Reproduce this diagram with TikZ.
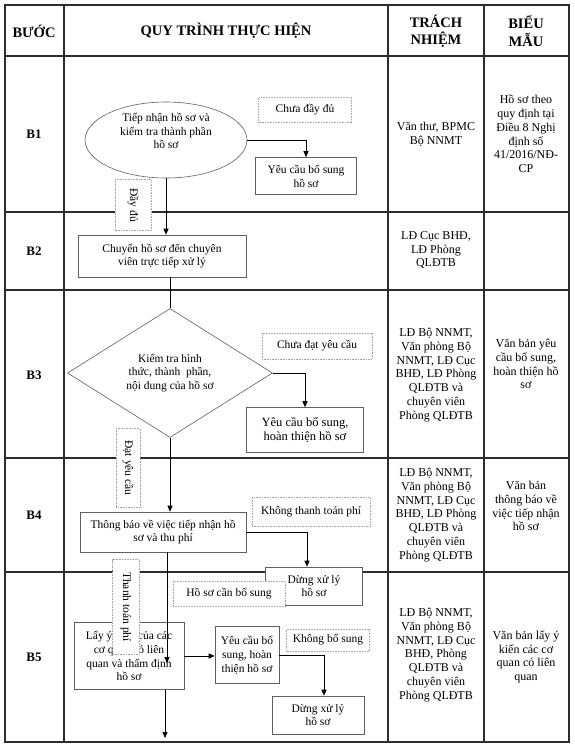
\documentclass[tikz,border=0pt]{standalone}
\usepackage{fontspec}
\setmainfont{Liberation Serif}
\usetikzlibrary{arrows.meta, shapes.geometric}
\definecolor{grid_line}{RGB}{45, 45, 45}
\definecolor{box_line}{RGB}{95, 95, 95}
\definecolor{note_line}{RGB}{165, 165, 165}

\begin{document}
\begin{tikzpicture}[x=1pt, y=-1pt,
        hd/.style={font=\fontsize{14.5}{17.5}\selectfont\bfseries, align=center},
        stp/.style={font=\fontsize{13}{15}\selectfont\bfseries},
        cell/.style={font=\fontsize{12}{13.8}\selectfont, align=center},
        proc/.style={draw=box_line, line width=0.6pt, fill=white, inner sep=1pt,
                     align=center, font=\fontsize{11.5}{13.8}\selectfont},
        note/.style={draw=note_line, densely dotted, line width=0.6pt, fill=white,
                     inner sep=1pt, font=\fontsize{11.5}{13.8}\selectfont},
        arr/.style={-{Triangle[length=6pt, width=5pt]}, line width=0.9pt},
        ln/.style={line width=0.9pt},
        grid/.style={draw=grid_line, line width=1.1pt},
      ]
        \useasboundingbox (0,0) rectangle (575,748);

        % table
        \draw[grid] (5,5) rectangle (569,742);
        \foreach \y in {56, 212, 290, 458, 572}
          \draw[grid] (5,\y) -- (569,\y);
        \foreach \x in {64, 388, 484}
          \draw[grid] (\x,5) -- (\x,742);

        \node[hd] (h1) at (34,31)  {BƯỚC};
        \node[hd] (h2) at (226,31) {QUY TRÌNH THỰC HIỆN};
        \node[hd] (h3) at (436,31) {TRÁCH\\NHIỆM};
        \node[hd] (h4) at (526,31) {BIỂU\\MẪU};

        \foreach \i/\y in {1/134, 2/251, 3/375, 4/515, 5/657}
          \node[stp] (b\i) at (34,\y) {B\i};

        \node[cell] (r1) at (436,134) {Văn thư, BPMC\\Bộ NNMT};
        \node[cell] (f1) at (526,134) {Hồ sơ theo\\quy định tại\\Điều 8 Nghị\\định số\\41/2016/NĐ-\\CP};
        \node[cell] (r2) at (436,250) {LĐ Cục BHĐ,\\LĐ Phòng\\QLĐTB};
        \node[cell] (r3) at (436,375) {LĐ Bộ NNMT,\\Văn phòng Bộ\\NNMT, LĐ Cục\\BHĐ, LĐ Phòng\\QLĐTB và\\chuyên viên\\Phòng QLĐTB};
        \node[cell] (f3) at (526,364) {Văn bản yêu\\cầu bổ sung,\\hoàn thiện hồ\\sơ};
        \node[cell] (r4) at (436,515) {LĐ Bộ NNMT,\\Văn phòng Bộ\\NNMT, LĐ Cục\\BHĐ, LĐ Phòng\\QLĐTB và\\chuyên viên\\Phòng QLĐTB};
        \node[cell] (f4) at (526,506) {Văn bản\\thông báo về\\việc tiếp nhận\\hồ sơ};
        \node[cell] (r5) at (436,655) {LĐ Bộ NNMT,\\Văn phòng Bộ\\NNMT, LĐ Cục\\BHĐ, Phòng\\QLĐTB và\\chuyên viên\\Phòng QLĐTB};
        \node[cell] (f5) at (526,657) {Văn bản lấy ý\\kiến các cơ\\quan có liên\\quan};

        % B1
        \node[ellipse, draw=box_line, line width=0.6pt, minimum width=162pt,
              minimum height=76pt] (e1) at (166,140) {};
        \node[align=center, font=\fontsize{11.5}{13.8}\selectfont] (e1t) at (166,131)
          {Tiếp nhận hồ sơ và\\kiểm tra thành phần\\hồ sơ};
        \node[note, minimum width=93pt, minimum height=25pt] (n1) at (305,110) {Chưa đầy đủ};
        \node[proc, minimum width=101pt, minimum height=37pt] (y1) at (306,176) {Yêu cầu bổ sung\\hồ sơ};
        \node[note, rotate=-90, minimum width=51pt, minimum height=36pt] (n2) at (133,205) {Đầy đủ};

        % B2
        \node[proc, minimum width=168pt, minimum height=42pt] (c2) at (162,256)
          {Chuyển hồ sơ đến chuyên\\viên trực tiếp xử lý};

        % B3
        \node[diamond, draw=box_line, line width=0.6pt, align=center, inner sep=0pt,
              font=\fontsize{11.5}{13.8}\selectfont, minimum width=205pt,
              minimum height=129pt] (d3) at (170,373)
          {Kiểm tra hình\\thức, thành~ phần,\\nội dung của hồ sơ};
        \node[note, minimum width=110pt, minimum height=26pt] (n3) at (317,346) {Chưa đạt yêu cầu};
        \node[proc, font=\fontsize{12.5}{14.5}\selectfont, minimum width=117pt,
              minimum height=45pt] (y3) at (305,430) {Yêu cầu bổ sung,\\hoàn thiện hồ sơ};
        \node[note, rotate=-90, minimum width=79pt, minimum height=24pt] (n4) at (128,468) {Đạt yêu cầu};

        % B4
        \node[proc, minimum width=166pt, minimum height=40pt] (t4) at (163,532)
          {Thông báo về việc tiếp nhận hồ\\sơ và thu phí};
        \node[note, minimum width=118pt, minimum height=29pt] (n5) at (311,512) {Không thanh toán phí};
        \node[proc, minimum width=97pt, minimum height=38pt] (s4) at (314,586) {Dừng xử lý\\hồ sơ};
        \node[note, minimum width=112pt, minimum height=25pt] (n6) at (229,594) {Hồ sơ cần bổ sung};

        % B5
        \node[proc, minimum width=110pt, minimum height=67pt] (l5) at (129,656)
          {Lấy ý kiến của các\\cơ quan có liên\\quan và thẩm định\\hồ sơ};
        \node[note, rotate=-90, minimum width=95pt, minimum height=27pt] (n7) at (126,607) {Thanh toán phí};
        \node[proc, minimum width=64pt, minimum height=57pt] (y5) at (247,655) {Yêu cầu bổ\\sung, hoàn\\thiện hồ sơ};
        \node[note, minimum width=83pt, minimum height=22pt] (n8) at (328,640) {Không bổ sung};
        \node[proc, minimum width=92pt, minimum height=38pt] (s5) at (318,715) {Dừng xử lý\\hồ sơ};

        \coordinate (m5) at (167,663);
        \coordinate (end5) at (165,738);

        % connectors
        \draw[arr] (e1.east) -| (y1.north);
        \draw[arr] (e1.south) -- (e1.south |- c2.north);
        \draw[ln]  (d3.north |- c2.south) -- (d3.north);
        \draw[arr] (d3.east) -| (y3.north);
        \draw[arr] (d3.south) -- (d3.south |- t4.north);
        \draw[arr] (t4.east) -| ([xshift=-7pt]s4.north);
        \draw[arr] (t4.south -| m5) -- (m5);
        \draw[arr] (l5.east) -- (l5.east -| y5.west);
        \draw[arr] (y5.east) -| ([xshift=6pt]s5.north);
        \draw[arr] (l5.south -| end5) -- (end5);
      \end{tikzpicture}
\end{document}
